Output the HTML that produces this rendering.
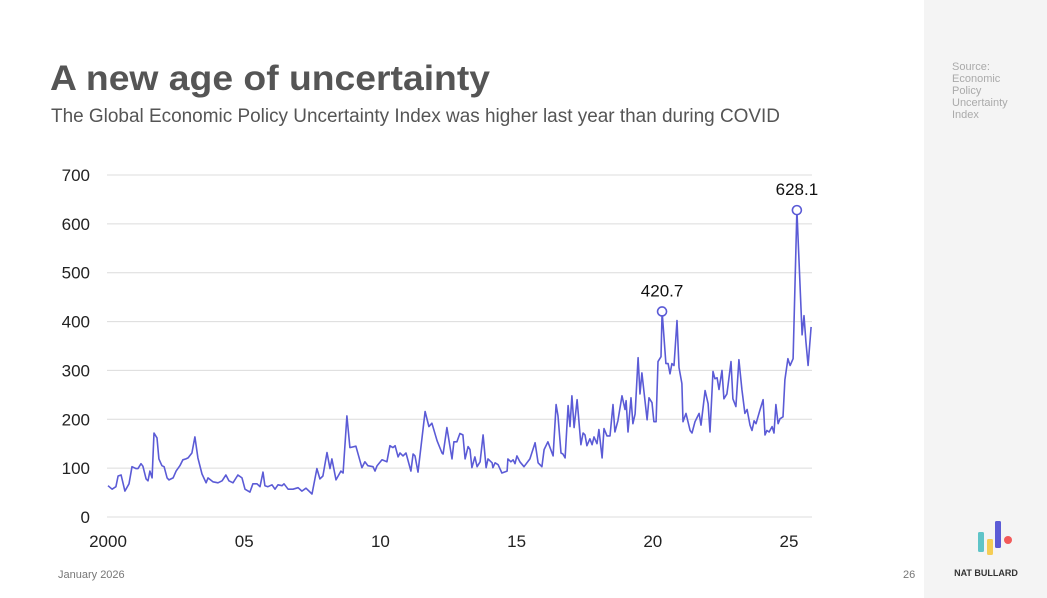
<!DOCTYPE html>
<html><head><meta charset="utf-8">
<style>
html,body{margin:0;padding:0;background:#fff;}
svg{display:block;font-family:"Liberation Sans",sans-serif;}
</style></head>
<body>
<svg id="c" width="1047" height="598" viewBox="0 0 1047 598" xmlns="http://www.w3.org/2000/svg">
<rect x="0" y="0" width="1047" height="598" fill="#ffffff"/>
<rect x="924" y="0" width="123" height="598" fill="#f4f4f4"/>
<text x="50" y="90" font-size="35" font-weight="bold" fill="#555555" textLength="440" lengthAdjust="spacingAndGlyphs">A new age of uncertainty</text>
<text x="51" y="122" font-size="19" fill="#555555" textLength="729" lengthAdjust="spacingAndGlyphs">The Global Economic Policy Uncertainty Index was higher last year than during COVID</text>
<g font-size="11" fill="#aaaaaa">
<text x="952" y="70">Source:</text>
<text x="952" y="82">Economic</text>
<text x="952" y="94">Policy</text>
<text x="952" y="106">Uncertainty</text>
<text x="952" y="118">Index</text>
</g>
<g>
<rect x="978" y="532" width="6" height="20" rx="1.5" fill="#5fc4c8"/>
<rect x="987" y="539" width="6" height="16" rx="1.5" fill="#f5cd55"/>
<rect x="995" y="521" width="6" height="27" rx="1.5" fill="#5b5bd6"/>
<circle cx="1008" cy="540" r="4" fill="#f25a5a"/>
</g>
<text x="986" y="576" font-size="9" font-weight="bold" fill="#333" text-anchor="middle">NAT BULLARD</text>
<text x="58" y="578" font-size="11" fill="#777">January 2026</text>
<text x="903" y="578" font-size="11" fill="#777">26</text>
<g id="grid"></g><g id="yl"></g><g id="xl"></g><g id="plot"></g>
</svg>
<script>
const yTicks=[0,100,200,300,400,500,600,700];
const xTickYears=[0,5,10,15,20,25];
const xTickLabels=["2000","05","10","15","20","25"];
const dates=[0.00,0.15,0.29,0.37,0.48,0.62,0.77,0.88,1.03,1.10,1.21,1.28,1.40,1.47,1.54,1.62,1.69,1.80,1.87,1.98,2.06,2.17,2.24,2.39,2.50,2.64,2.75,2.86,2.94,3.08,3.19,3.30,3.45,3.60,3.67,3.85,4.04,4.19,4.33,4.44,4.59,4.77,4.92,5.03,5.21,5.32,5.47,5.58,5.69,5.76,5.87,6.02,6.13,6.24,6.39,6.46,6.61,6.79,6.98,7.12,7.27,7.49,7.67,7.78,7.89,8.04,8.15,8.22,8.37,8.55,8.63,8.77,8.88,9.10,9.32,9.43,9.54,9.73,9.80,9.88,10.06,10.24,10.35,10.46,10.54,10.65,10.72,10.83,10.94,11.12,11.20,11.27,11.38,11.64,11.78,11.89,12.08,12.26,12.30,12.44,12.63,12.70,12.81,12.92,13.03,13.11,13.22,13.29,13.36,13.47,13.55,13.66,13.77,13.88,13.95,14.10,14.13,14.21,14.32,14.46,14.65,14.68,14.79,14.87,14.94,15.01,15.12,15.27,15.49,15.68,15.79,15.93,16.01,16.15,16.34,16.45,16.52,16.63,16.70,16.78,16.89,16.96,17.03,17.11,17.22,17.36,17.44,17.51,17.58,17.69,17.77,17.84,17.95,18.02,18.14,18.21,18.32,18.43,18.54,18.61,18.72,18.87,18.98,19.02,19.09,19.20,19.27,19.35,19.46,19.53,19.60,19.79,19.86,19.97,20.04,20.12,20.19,20.30,20.34,20.48,20.56,20.63,20.70,20.78,20.89,20.96,21.07,21.11,21.22,21.37,21.44,21.55,21.70,21.77,21.92,22.03,22.10,22.21,22.28,22.36,22.43,22.54,22.61,22.72,22.76,22.87,22.94,23.05,23.16,23.27,23.38,23.46,23.57,23.64,23.72,23.79,23.94,24.05,24.12,24.19,24.27,24.38,24.45,24.52,24.60,24.67,24.78,24.85,24.96,25.04,25.15,25.29,25.48,25.55,25.62,25.70,25.81];
const values=[64,57,62,84,86,53,68,103,99,99,109,104,78,74,94,80,172,162,119,105,103,80,76,80,94,105,117,119,121,131,164,121,88,70,80,72,70,74,86,74,70,86,80,57,51,68,68,62,92,64,62,66,57,66,64,68,57,57,60,53,59,47,99,78,84,132,99,119,76,94,90,207,142,145,101,113,105,103,94,105,117,113,146,142,146,123,131,125,131,94,129,125,92,216,185,192,156,131,129,183,119,154,154,171,168,119,144,138,101,123,103,113,168,101,119,111,101,111,107,90,94,119,113,117,109,125,113,103,119,152,111,103,138,154,125,230,207,131,129,121,228,185,248,183,240,148,172,168,146,160,148,164,150,179,121,181,166,166,230,174,197,248,220,238,174,244,191,211,326,252,295,199,244,234,195,195,318,328,420.7,314,314,293,314,310,402,306,273,195,212,177,172,195,212,188,259,232,174,298,283,285,261,300,242,252,269,318,242,226,322,261,212,220,188,177,197,191,220,240,168,177,174,185,172,230,191,201,205,281,324,310,324,628.1,373,412,359,310,389];
const annotated=[420.7,628.1];

const X0=108,PXY=27.24,Y0=517,PXV=(517-175)/700;
const xs=t=>X0+t*PXY, ys=v=>Y0-v*PXV;
const NS="http://www.w3.org/2000/svg";
function mk(tag,parent){const e=document.createElementNS(NS,tag);document.getElementById(parent).appendChild(e);return e;}
yTicks.forEach(v=>{
  const l=mk('line','grid');
  
  
  l.setAttribute('x1',107);l.setAttribute('x2',812);l.setAttribute('y1',ys(v));l.setAttribute('y2',ys(v));
  l.setAttribute('stroke','#dcdcdc');l.setAttribute('stroke-width','1');
  const t=mk('text','yl');
  
  
  t.setAttribute('x',90);t.setAttribute('y',ys(v)+6);t.setAttribute('text-anchor','end');t.setAttribute('font-size','17');t.setAttribute('fill','#222');
  t.textContent=v;
});
xTickYears.forEach((y,i)=>{
  const t=mk('text','xl');
  
  
  t.setAttribute('x',xs(y));t.setAttribute('y',547);t.setAttribute('text-anchor','middle');t.setAttribute('font-size','17');t.setAttribute('fill','#222');
  t.textContent=xTickLabels[i];
});
const p=mk('path','plot');


p.setAttribute('d',dates.map((d,i)=>(i?'L':'M')+xs(d).toFixed(1)+' '+ys(values[i]).toFixed(1)).join(' '));
p.setAttribute('fill','none');p.setAttribute('stroke','#5b5bd6');p.setAttribute('stroke-width','1.6');p.setAttribute('stroke-linejoin','round');
annotated.forEach(a=>{
  const i=values.indexOf(a);
  const c=mk('circle','plot');
  
  
  c.setAttribute('cx',xs(dates[i]));c.setAttribute('cy',ys(a));c.setAttribute('r',4.5);c.setAttribute('fill','#fff');c.setAttribute('stroke','#5b5bd6');c.setAttribute('stroke-width','1.6');
  const t=mk('text','plot');
  
  
  t.setAttribute('x',xs(dates[i]));t.setAttribute('y',ys(a)-15);t.setAttribute('text-anchor','middle');t.setAttribute('font-size','17');t.setAttribute('fill','#111');
  t.textContent=a.toFixed(1);
});
</script>
</body></html>
